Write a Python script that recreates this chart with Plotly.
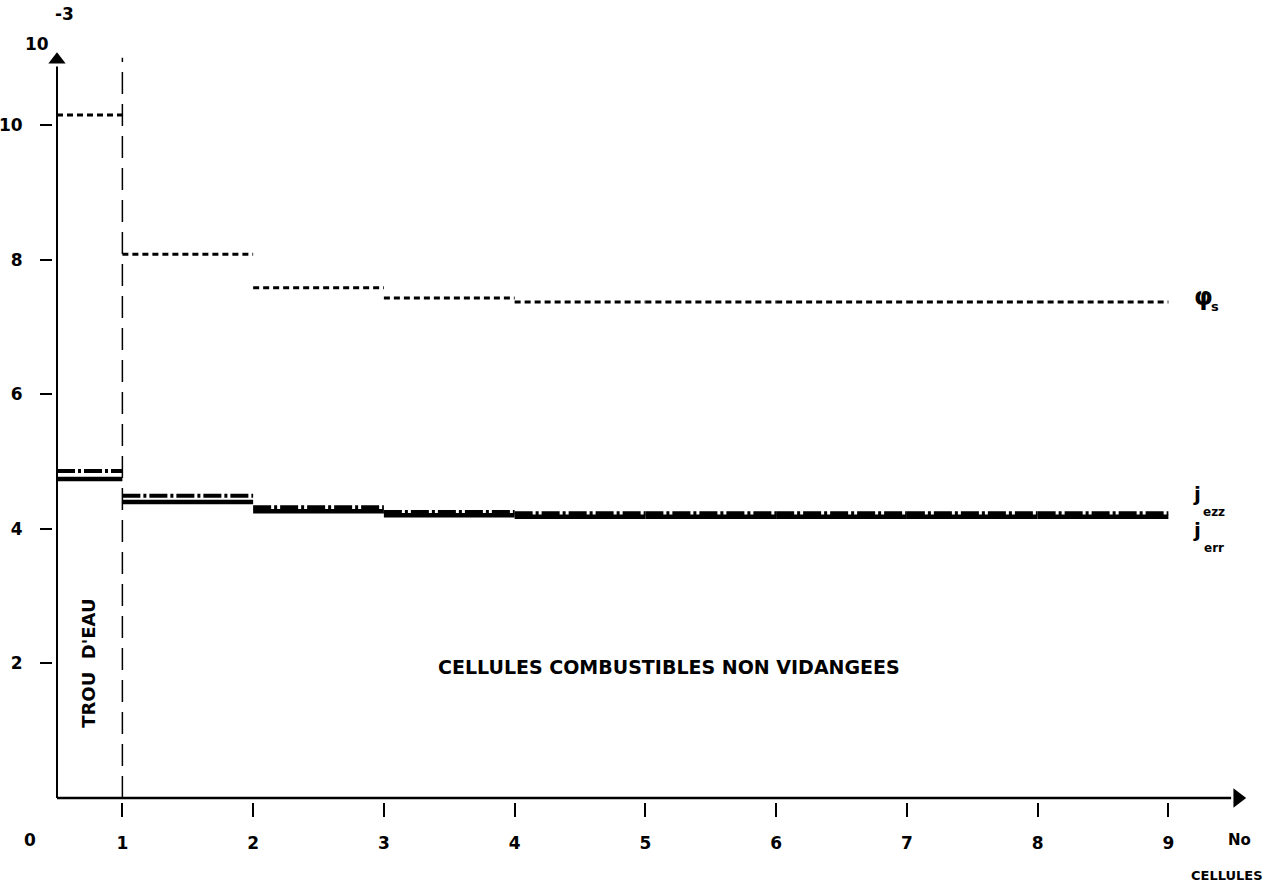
import plotly.graph_objects as go

# cell boundaries (water hole 0.5-1, then fuel cells 1..9)
cell_left = [0.5, 1, 2, 3, 4, 5, 6, 7, 8]
cell_right = [1, 2, 3, 4, 5, 6, 7, 8, 9]
phi_s = [10.15, 8.08, 7.58, 7.43, 7.37, 7.37, 7.37, 7.37, 7.37]
j_ezz = [4.86, 4.49, 4.32, 4.25, 4.23, 4.23, 4.23, 4.23, 4.23]
j_err = [4.74, 4.40, 4.26, 4.20, 4.18, 4.18, 4.18, 4.18, 4.18]

x_ticks = [1, 2, 3, 4, 5, 6, 7, 8, 9]
x_ticktext = ["1", "2", "3", "4", "5", "6", "7", "8", "9"]
y_ticks = [2, 4, 6, 8, 10]
y_ticktext = ["2", "4", "6", "8", "10"]

X_MIN, X_ARROW = 0.5, 9.53
Y_ARROW = 10.97

FONT = "DejaVu Sans"

# pixel frame: x=0.5 -> 57px, 130.75 px/unit ; y=0 -> 798px, 67.3 px/unit
XL = 0.5 - 4 / 130.75
XR = 0.5 + (1245 - 57) / 130.75
YB = -4 / 67.3
YT = (798 - 40) / 67.3


def segs(vals):
    xs, ys = [], []
    for a, b, v in zip(cell_left, cell_right, vals):
        xs += [a, b, None]
        ys += [v, v, None]
    return xs, ys


fig = go.Figure()

# axes drawn as lines with triangular arrow heads
fig.add_trace(go.Scatter(x=[X_MIN, X_ARROW - 0.05], y=[0, 0], mode="lines",
                         line=dict(color="black", width=2.5),
                         showlegend=False, hoverinfo="skip"))
fig.add_trace(go.Scatter(x=[X_MIN, X_MIN], y=[0, Y_ARROW - 0.1], mode="lines",
                         line=dict(color="black", width=2),
                         showlegend=False, hoverinfo="skip"))
fig.add_trace(go.Scatter(x=[X_ARROW], y=[0], mode="markers", cliponaxis=False,
                         marker=dict(symbol="triangle-right", size=17, color="black"),
                         showlegend=False, hoverinfo="skip"))
fig.add_trace(go.Scatter(x=[X_MIN], y=[Y_ARROW], mode="markers", cliponaxis=False,
                         marker=dict(symbol="triangle-up", size=15, color="black"),
                         showlegend=False, hoverinfo="skip"))

x1, y1 = segs(phi_s)
fig.add_trace(go.Scatter(x=x1, y=y1, mode="lines",
                         line=dict(color="black", width=3, dash="6px,4px"),
                         showlegend=False, hoverinfo="skip"))
x2, y2 = segs(j_ezz)
fig.add_trace(go.Scatter(x=x2, y=y2, mode="lines",
                         line=dict(color="black", width=4, dash="18px,3px,3px,3px"),
                         showlegend=False, hoverinfo="skip"))
x3, y3 = segs(j_err)
fig.add_trace(go.Scatter(x=x3, y=y3, mode="lines",
                         line=dict(color="black", width=4.5),
                         showlegend=False, hoverinfo="skip"))

# dashed separator at cell boundary 1
fig.add_trace(go.Scatter(x=[1, 1], y=[0, 11.0], mode="lines",
                         line=dict(color="black", width=1.5, dash="22px,10px"),
                         showlegend=False, hoverinfo="skip"))

BOLD = dict(family=FONT, color="black", weight="bold")

annotations = [
    dict(x=0.74, y=2.0, xref="x", yref="y", text="TROU  D'EAU", textangle=-90,
         xanchor="center", yanchor="middle",
         showarrow=False, font=dict(BOLD, size=18)),
    dict(x=5.18, y=1.95, xref="x", yref="y", text="CELLULES COMBUSTIBLES NON VIDANGEES",
         xanchor="center", yanchor="middle",
         showarrow=False, font=dict(BOLD, size=19)),
]

fig.update_layout(
    width=1275, height=882,
    margin=dict(l=53, r=30, t=40, b=80, autoexpand=False),
    paper_bgcolor="white", plot_bgcolor="white",
    xaxis=dict(range=[XL, XR], showgrid=False, zeroline=False, showline=False,
               automargin=False,
               tickvals=x_ticks, ticktext=x_ticktext, ticks="outside", ticklen=14,
               tickwidth=2, tickcolor="black", ticklabelstandoff=12,
               tickfont=dict(BOLD, size=17)),
    yaxis=dict(range=[YB, YT], showgrid=False, zeroline=False, showline=False,
               automargin=False,
               tickvals=y_ticks, ticktext=y_ticktext, ticks="outside", ticklen=12,
               tickwidth=2, tickcolor="black", ticklabelstandoff=14,
               tickfont=dict(BOLD, size=17)),
)


def px(xp, yp):
    return dict(x=(xp - 53) / (1275 - 53 - 30), y=(802 - yp) / (802 - 40),
                xref="paper", yref="paper", xanchor="center", yanchor="middle")


extra = [
    (30, 840, "0", 17),
    (37, 44, "10", 17),
    (64, 14, "-3", 17),
    (1239, 840, "No", 15),
    (1227, 876, "CELLULES", 13),
    (1203, 297, "φ", 24),
    (1215, 306, "s", 13),
    (1197, 494, "j", 20),
    (1214, 512, "ezz", 12),
    (1197, 530, "j", 20),
    (1214, 548, "err", 12),
]
for xp, yp, t, s in extra:
    d = px(xp, yp)
    d.update(text=t, showarrow=False, font=dict(BOLD, size=s))
    annotations.append(d)

fig.update_layout(annotations=annotations)
fig.write_html("out.html")
